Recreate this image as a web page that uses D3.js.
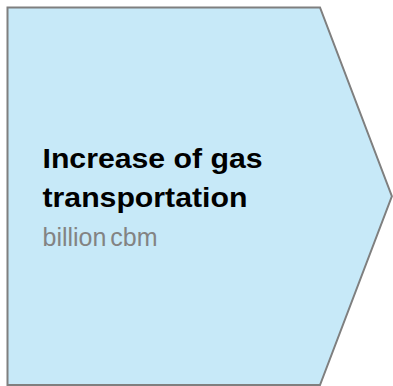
<!DOCTYPE html>
<html>
<head>
  <meta charset="utf-8">
  <title>Gas transportation</title>
  <script src="https://d3js.org/d3.v7.min.js"></script>
  <style>
    body { margin: 0; background: white; }
  </style>
</head>
<body>
<div id="output"></div>

<script type="text/javascript">

  var titleLines = ["Increase of gas", "transportation"];
  var unitLabel = "billion cbm";

  // outline of the arrow shape, in unit coordinates
  var shape = [[0, 0], [1, 0], [1.23, 0.5], [1, 1], [0, 1]];

  var w = 393;
  var h = 386;

  var x = d3.scaleLinear()
          .domain([0, 1])
          .range([7.5, 320]);

  var y = d3.scaleLinear()
          .domain([0, 1])
          .range([7.5, 385]);

  var svg = d3.select("#output").append("svg")
          .attr("width", w)
          .attr("height", h)

  var line = d3.line()
          .x(function(d){ return x(d[0]) })
          .y(function(d){ return y(d[1]) })

  svg.append("path")
          .attr("d", line(shape) + "Z")
          .attr("fill", "#c7e9f8")
          .attr("stroke", "#7f7f7f")
          .attr("stroke-width", 2)

  // bold title is a bit wider than plain Arial
  svg.append("g")
          .attr("transform", "translate(42.5,0) scale(1.08,1)")
          .selectAll(".title")
          .data(titleLines)
          .enter()
          .append("text")
          .attr("class", "title")
          .attr("x", 0)
          .attr("y", function(d, i){ return 168 + i * 39 })
          .attr("font-family", "Liberation Sans, Arial, sans-serif")
          .attr("font-weight", "bold")
          .attr("font-size", 28)
          .attr("fill", "#000")
          .text(function(d){ return d })

  svg.append("text")
          .attr("x", 42.5)
          .attr("y", 246)
          .attr("font-family", "Liberation Sans, Arial, sans-serif")
          .attr("font-size", 25)
          .attr("word-spacing", -3)
          .attr("fill", "#838383")
          .text(unitLabel)

</script>
</body>
</html>
